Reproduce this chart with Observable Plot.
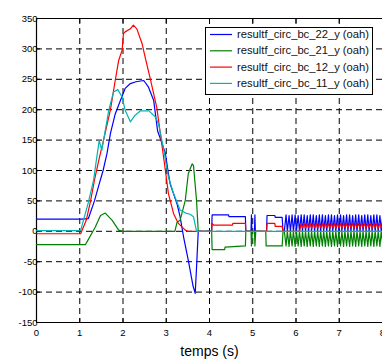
<!DOCTYPE html>
<html><head><meta charset="utf-8">
<script src="https://cdn.jsdelivr.net/npm/d3@7"></script>
<script src="https://cdn.jsdelivr.net/npm/@observablehq/plot@0.6"></script>
<style>body{margin:0;background:#fff;} #c{position:relative;width:382px;height:361px;overflow:hidden;}</style>
</head><body><div id="c"></div>
<script>
const xTicks = [0,1,2,3,4,5,6,7,8];
const yTicks = [-150,-100,-50,0,50,100,150,200,250,300,350];
const seriesNames = ["resultf_circ_bc_22_y (oah)","resultf_circ_bc_21_y (oah)","resultf_circ_bc_12_y (oah)","resultf_circ_bc_11_y (oah)"];
const seriesColors = ["#0000ff","#008000","#ff0000","#00b4b4"];

// transient part (time, value)
const blueT = [0,1.05,1.2,1.34,1.45,1.54,1.63,1.71,1.82,1.94,2.05,2.17,2.3,2.48,2.59,2.71,2.8,2.9,2.98,3.05,3.09,3.25,3.32,3.4,3.51,3.62,3.67,3.7,3.74,4.05,4.06,4.44,4.45,4.83,4.84,4.96,4.97,4.98,5.04,5.05,5.06,5.32,5.33,5.51,5.52,5.68,5.7];
const blueV = [20,20,21,50,78,100,128,161,193,215,235,243,246,248,237,215,165,145,128,95,78,45,24,-9,-48,-90,-102,-60,0,0,27,27,24,24,0,0,27,0,0,27,0,0,26,26,23,23,0];
const greenT = [0,1.13,1.21,1.36,1.48,1.59,1.75,1.9,2.0,3.2,3.25,3.32,3.44,3.51,3.6,3.63,3.7,3.74,4.05,4.06,4.35,4.36,4.83,4.84,4.96,4.97,4.99,5.04,5.05,5.07,5.3,5.31,5.68,5.7];
const greenV = [-22,-22,-12,7,26,30,18,2,0,0,15,18,51,95,111,108,51,0,0,-30,-30,-26,-24,0,0,-24,0,0,-24,0,0,-24,-24,0];
const redT = [0,1.02,1.15,1.25,1.34,1.45,1.55,1.71,1.82,1.9,1.98,2.01,2.05,2.17,2.24,2.32,2.44,2.51,2.63,2.78,2.9,2.98,3.05,3.17,3.28,3.44,3.5,4.05,4.06,4.1,4.53,4.54,4.83,4.84,5.32,5.33,5.51,5.52,5.68,5.7];
const redV = [-4,-4,18,50,84,120,150,200,248,281,298,325,328,333,339,333,309,287,251,204,142,100,62,29,13,2,0,0,13,10,10,13,13,0,0,13,13,8,8,0];
const cyanT = [0,1.02,1.19,1.32,1.38,1.45,1.51,1.67,1.78,1.88,1.98,2.05,2.17,2.28,2.4,2.6,2.75,2.82,2.94,3.05,3.17,3.32,3.45,3.55,3.63,3.7,8];
const cyanV = [1,1,45,84,115,149,133,199,229,233,221,199,180,191,198,198,188,177,135,89,62,35,30,28,24,0,0];

// oscillating part after 5.7 s
const oscT = [5.73,5.77,5.80,5.84,5.87,5.91,5.94,5.98,6.01,6.05,6.08,6.12,6.15,6.19,6.22,6.26,6.29,6.33,6.36,6.40,6.43,6.47,6.50,6.54,6.57,6.61,6.64,6.68,6.71,6.75,6.78,6.82,6.85,6.89,6.92,6.96,6.99,7.03,7.06,7.10,7.13,7.17,7.20,7.24,7.27,7.31,7.34,7.38,7.41,7.45,7.48,7.52,7.55,7.59,7.62,7.66,7.69,7.73,7.76,7.80,7.83,7.87,7.90,7.94,7.97,8.01];
const blueOsc = [0,27,0,26,0,27,0,27,0,26,0,27,0,27,0,26,0,27,0,27,0,26,0,27,0,27,0,26,0,27,0,27,0,26,0,27,0,27,0,26,0,27,0,27,0,26,0,27,0,27,0,26,0,27,0,27,0,26,0,27,0,27,0,26,0,27];
const greenOsc = [0,-24,0,-25,0,-24,0,-25,0,-24,0,-25,0,-24,0,-25,0,-24,0,-25,0,-24,0,-25,0,-24,0,-25,0,-24,0,-25,0,-24,0,-25,0,-24,0,-25,0,-24,0,-25,0,-24,0,-25,0,-24,0,-25,0,-24,0,-25,0,-24,0,-25,0,-24,0,-25,0,-24];
const redOsc = [0,0,0,0,0,0,0,0,0,0,0,13,6,13,5,13,6,13,5,13,6,13,5,13,6,13,5,13,6,13,5,13,6,13,5,13,6,13,5,13,6,13,5,13,6,13,5,13,6,13,5,13,6,13,5,13,6,13,5,13,6,13,5,13,6,13];

const mk = (T, V, oT, oV, k) => T.map((t,i)=>({t, v:V[i], k})).concat(oT ? oT.map((t,i)=>({t, v:oV[i], k})) : []);
const blue = mk(blueT, blueV, oscT, blueOsc, 0);
const green = mk(greenT, greenV, oscT, greenOsc, 1);
const red = mk(redT, redV, oscT, redOsc, 2);
const cyan = mk(cyanT, cyanV, null, null, 3);

const gx = xTicks.slice(1,-1), gy = yTicks.slice(1,-1);
const dash = {stroke:"black", strokeOpacity:1, strokeDasharray:"6,4", strokeWidth:1};
const chart = Plot.plot({
  width:382, height:361,
  marginLeft:36, marginRight:0, marginTop:18, marginBottom:39,
  x:{domain:[0,8]}, y:{domain:[-150,350]},
  style:{fontFamily:"'Liberation Sans', Arial, sans-serif", fontSize:"9.5px", background:"white", color:"black", overflow:"hidden"},
  marks:[
    Plot.ruleX(gx, dash),
    Plot.ruleY(gy, dash),
    Plot.axisX({ticks:xTicks, tickSize:-4, tickPadding:11, tickFormat:d=>String(d), label:null}),
    Plot.axisX({anchor:"top", ticks:gx, tickSize:-4, tickFormat:()=>"", label:null}),
    Plot.axisY({ticks:yTicks, tickSize:-4, tickPadding:3, tickFormat:d=>String(d), label:null}),
    Plot.ruleX([0], {stroke:"black", strokeWidth:1.2}),
    Plot.ruleY([-150, 350], {stroke:"black", strokeWidth:1.2}),
    Plot.line(blue, {x:"t", y:"v", stroke:seriesColors[0], strokeWidth:1.2}),
    Plot.line(green, {x:"t", y:"v", stroke:seriesColors[1], strokeWidth:1.2}),
    Plot.line(red, {x:"t", y:"v", stroke:seriesColors[2], strokeWidth:1.2}),
    Plot.line(cyan, {x:"t", y:"v", stroke:seriesColors[3], strokeWidth:1.2}),
    Plot.text(["temps (s)"], {frameAnchor:"bottom", dy:33, fontSize:14, fill:"black"})
  ]
});
document.getElementById("c").appendChild(chart);

// legend box inside the plot area
const svg = d3.select(chart);
const lg = svg.append("g").attr("font-family","'Liberation Sans', Arial, sans-serif").attr("font-size","10px").attr("text-anchor","start");
lg.append("rect").attr("x",205.5).attr("y",27.5).attr("width",167).attr("height",67).attr("fill","white").attr("stroke","black").attr("stroke-width",1);
seriesNames.forEach((n,i)=>{
  const y = 34.5 + i*16.3;
  lg.append("line").attr("x1",210).attr("x2",232).attr("y1",y).attr("y2",y).attr("stroke",seriesColors[i]).attr("stroke-width",1.2);
  lg.append("text").attr("x",237).attr("y",y).attr("dy","0.35em").attr("text-anchor","start").attr("fill","#111").attr("textLength",132).attr("lengthAdjust","spacingAndGlyphs").text(n);
});
</script>
</body></html>
